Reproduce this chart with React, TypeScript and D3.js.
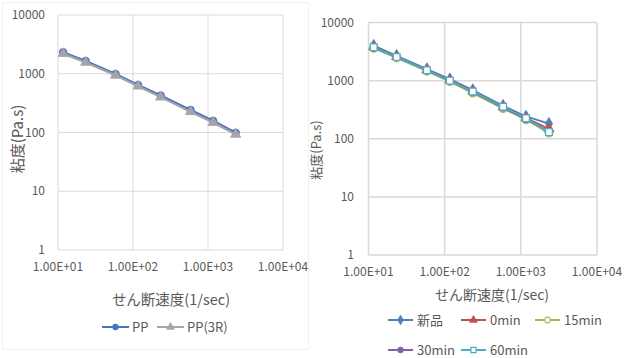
import React from "react";
import * as d3 from "d3";

const shearRates = [11.7, 23.4, 58.5, 117, 234, 585, 1170, 2340];
const ppValues = [2320, 1650, 990, 645, 425, 242, 158, 99];
const pp3rValues = [2200, 1560, 940, 615, 400, 226, 148, 93];

const newValues = [4000, 2680, 1580, 1060, 690, 370, 242, 182];
const min0Values = [3800, 2600, 1520, 1020, 660, 352, 228, 148];
const min15Values = [3600, 2450, 1450, 960, 610, 330, 212, 125];
const min30Values = [3700, 2550, 1500, 1000, 640, 345, 220, 133];
const min60Values = [3750, 2560, 1510, 1000, 650, 355, 225, 130];

const yTicks = [1, 10, 100, 1000, 10000];
const xTicks = [10, 100, 1000, 10000];
const xTickLabels = ["1.00E+01", "1.00E+02", "1.00E+03", "1.00E+04"];

const yTitle = "粘度(Pa.s)";
const xTitle = "せん断速度(1/sec)";

const FONT = "'Noto Sans CJK JP', 'Noto Sans', sans-serif";
const TICK_COLOR = "#595959";

type Series = { name: string; values: number[]; color: string; marker: string; hollow?: boolean };

const leftSeries: Series[] = [
  { name: "PP", values: ppValues, color: "#4472C4", marker: "circle" },
  { name: "PP(3R)", values: pp3rValues, color: "#A5A5A5", marker: "triangle" },
];

const rightSeries: Series[] = [
  { name: "新品", values: newValues, color: "#4F81BD", marker: "diamond" },
  { name: "0min", values: min0Values, color: "#C0504D", marker: "triangle" },
  { name: "15min", values: min15Values, color: "#9BBB59", marker: "circle", hollow: true },
  { name: "30min", values: min30Values, color: "#8064A2", marker: "circle" },
  { name: "60min", values: min60Values, color: "#4BACC6", marker: "square", hollow: true },
];

function Marker({ type, x, y, color, size, hollow }: { type: string; x: number; y: number; color: string; size: number; hollow?: boolean }) {
  const symType =
    type === "circle" ? d3.symbolCircle : type === "triangle" ? d3.symbolTriangle : type === "diamond" ? d3.symbolDiamond : d3.symbolSquare;
  const path = d3.symbol().type(symType).size(size)() as string;
  return (
    <path
      d={path}
      transform={`translate(${x},${y})`}
      fill={hollow ? "#ffffff" : color}
      stroke={color}
      strokeWidth={hollow ? 1.2 : 0.8}
    />
  );
}

function LogChart({
  x0, x1, y0, y1, series, markerSize, lineWidth, gridWidth,
  yLabelX, xLabelY, xTitleX, xTitleY, yTitleX, yTitleY, xTitleSize, yTitleSize,
}: {
  x0: number; x1: number; y0: number; y1: number; series: Series[]; markerSize: number; lineWidth: number; gridWidth: number;
  yLabelX: number; xLabelY: number; xTitleX: number; xTitleY: number; yTitleX: number; yTitleY: number; xTitleSize: number; yTitleSize: number;
}) {
  const xs = d3.scaleLog().domain([10, 10000]).range([x0, x1]);
  const ys = d3.scaleLog().domain([1, 10000]).range([y1, y0]);
  const line = d3
    .line<number>()
    .x((_, i) => xs(shearRates[i]))
    .y((d) => ys(d));
  return (
    <g>
      {yTicks.map((t) => (
        <line key={"gy" + t} x1={x0} x2={x1} y1={ys(t)} y2={ys(t)} stroke="#d9d9d9" strokeWidth={gridWidth} />
      ))}
      {xTicks.map((t) => (
        <line key={"gx" + t} x1={xs(t)} x2={xs(t)} y1={y0} y2={y1} stroke="#d9d9d9" strokeWidth={gridWidth} />
      ))}
      {yTicks.map((t) => (
        <text key={"ly" + t} x={yLabelX} y={ys(t)} dy="0.35em" textAnchor="end" fontSize={12} fill={TICK_COLOR} fontFamily={FONT}>
          {t}
        </text>
      ))}
      {xTicks.map((t, i) => (
        <text key={"lx" + t} x={xs(t)} y={xLabelY} dy="0.35em" textAnchor="middle" fontSize={12} fill={TICK_COLOR} fontFamily={FONT}>
          {xTickLabels[i]}
        </text>
      ))}
      {series.map((s) => (
        <g key={s.name}>
          <path d={line(s.values) as string} fill="none" stroke={s.color} strokeWidth={lineWidth} />
          {s.values.map((v, i) => (
            <Marker key={i} type={s.marker} x={xs(shearRates[i])} y={ys(v)} color={s.color} size={markerSize} hollow={s.hollow} />
          ))}
        </g>
      ))}
      <text x={xTitleX} y={xTitleY} dy="0.35em" textAnchor="middle" fontSize={xTitleSize} fill={TICK_COLOR} fontFamily={FONT}>
        {xTitle}
      </text>
      <text
        transform={`translate(${yTitleX},${yTitleY}) rotate(-90)`}
        dy="0.35em"
        textAnchor="middle"
        fontSize={yTitleSize}
        fill={TICK_COLOR}
        fontFamily={FONT}
      >
        {yTitle}
      </text>
    </g>
  );
}

function LegendItem({ s, x, y, lineLen, textGap }: { s: Series; x: number; y: number; lineLen: number; textGap: number }) {
  return (
    <g>
      <line x1={x} x2={x + lineLen} y1={y} y2={y} stroke={s.color} strokeWidth={2} />
      <Marker type={s.marker} x={x + lineLen / 2} y={y} color={s.color} size={26} hollow={s.hollow} />
      <text x={x + lineLen + textGap} y={y} dy="0.35em" fontSize={13} fill={TICK_COLOR} fontFamily={FONT}>
        {s.name}
      </text>
    </g>
  );
}

export default function App() {
  return (
    <svg width={625} height={358} style={{ position: "absolute", left: 0, top: 0, background: "#fff" }}>
      <rect x={0} y={0} width={625} height={358} fill="#ffffff" />
      <rect x={2.5} y={2.5} width={306} height={347} fill="none" stroke="#f0f0f0" strokeWidth={1} />
      <LogChart
        x0={58} x1={283} y0={15} y1={250}
        series={leftSeries} markerSize={45} lineWidth={2.2} gridWidth={1}
        yLabelX={45} xLabelY={267} xTitleX={171} xTitleY={300} yTitleX={18} yTitleY={139}
        xTitleSize={14.5} yTitleSize={15}
      />
      <LegendItem s={leftSeries[0]} x={102} y={327} lineLen={27} textGap={3} />
      <LegendItem s={leftSeries[1]} x={157} y={327} lineLen={27} textGap={3} />

      <LogChart
        x0={368.5} x1={597} y0={22.5} y1={255}
        series={rightSeries} markerSize={45} lineWidth={1.8} gridWidth={1.5}
        yLabelX={354} xLabelY={272} xTitleX={492} xTitleY={295} yTitleX={316} yTitleY={150}
        xTitleSize={14} yTitleSize={13}
      />
      <LegendItem s={rightSeries[0]} x={388} y={320} lineLen={25} textGap={4} />
      <LegendItem s={rightSeries[1]} x={461} y={320} lineLen={25} textGap={4} />
      <LegendItem s={rightSeries[2]} x={535} y={320} lineLen={25} textGap={4} />
      <LegendItem s={rightSeries[3]} x={388} y={350} lineLen={25} textGap={4} />
      <LegendItem s={rightSeries[4]} x={461} y={350} lineLen={25} textGap={4} />
    </svg>
  );
}
